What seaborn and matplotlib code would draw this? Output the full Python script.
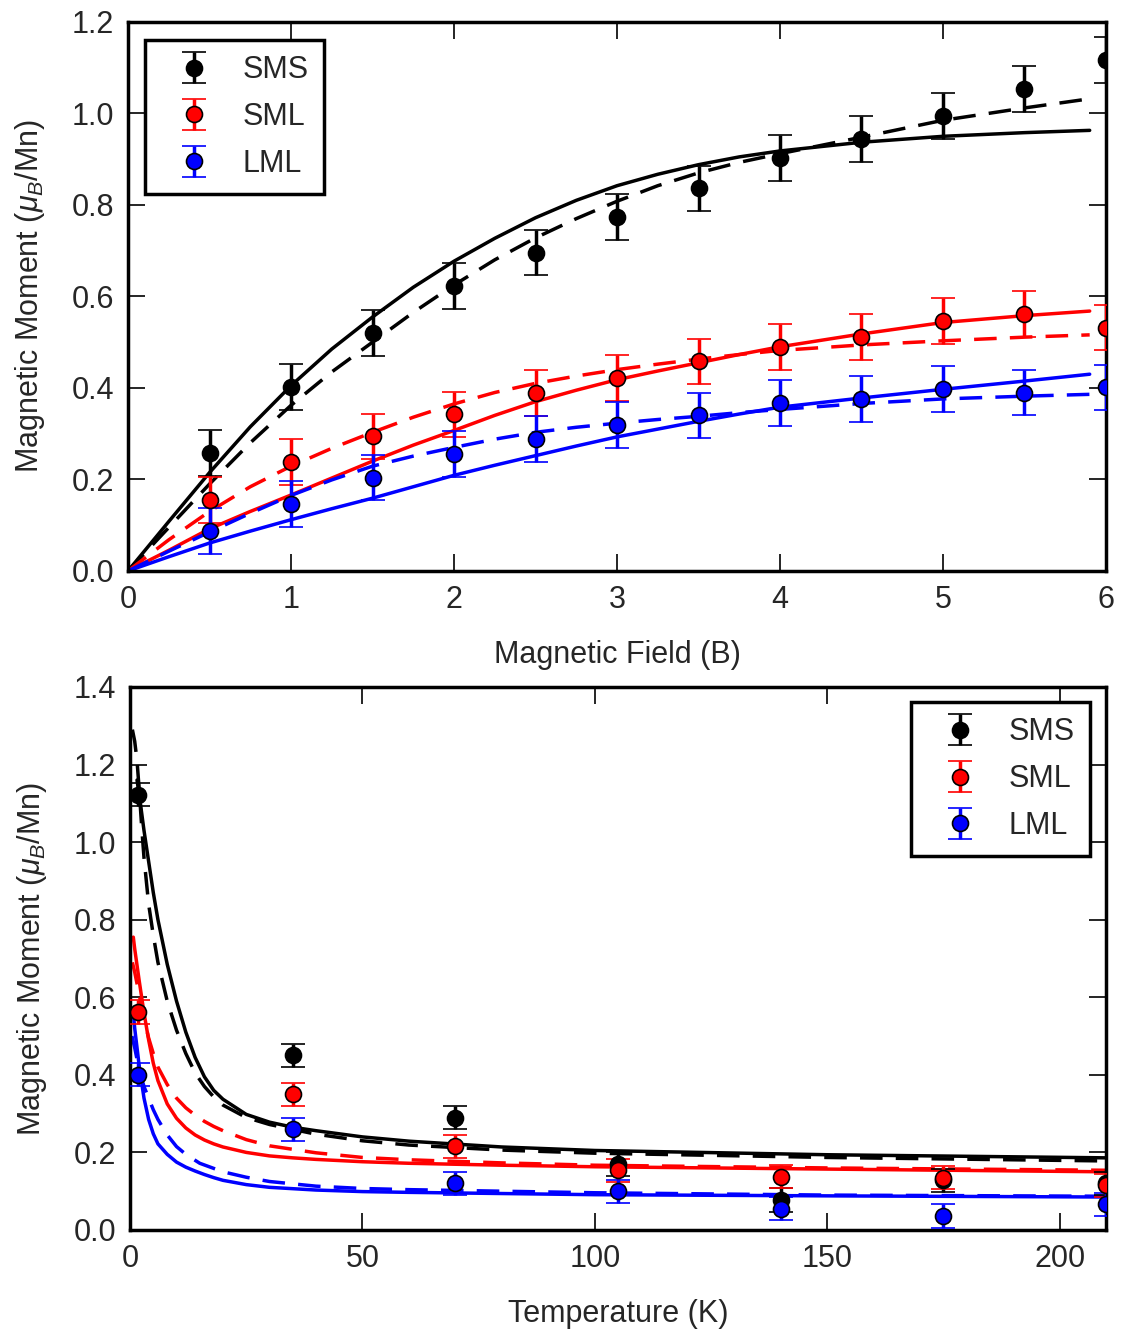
import numpy as np
import pandas as pd
import seaborn as sns
import matplotlib
matplotlib.use("Agg")
import matplotlib.pyplot as plt

# ---- field sweep (top panel) ----
field = [0.5, 1.0, 1.5, 2.0, 2.5, 3.0, 3.5, 4.0, 4.5, 5.0, 5.5, 6.0]
sms_B = [0.258, 0.402, 0.52, 0.622, 0.696, 0.773, 0.836, 0.902, 0.944, 0.995, 1.053, 1.116]
sml_B = [0.155, 0.238, 0.294, 0.342, 0.389, 0.421, 0.458, 0.489, 0.512, 0.547, 0.561, 0.532]
lml_B = [0.087, 0.146, 0.204, 0.256, 0.288, 0.319, 0.340, 0.367, 0.375, 0.397, 0.390, 0.401]
err_B = 0.05

fit_B = [0.0, 0.25, 0.5, 0.75, 1.0, 1.25, 1.5, 1.75, 2.0, 2.25, 2.5, 2.75, 3.0,
         3.25, 3.5, 3.75, 4.0, 4.5, 5.0, 5.5, 5.9]
sms_B_solid = [0.0, 0.108, 0.215, 0.315, 0.405, 0.485, 0.555, 0.62, 0.677, 0.727, 0.772,
               0.81, 0.842, 0.867, 0.888, 0.905, 0.918, 0.937, 0.950, 0.958, 0.963]
sms_B_dash = [0.0, 0.095, 0.19, 0.28, 0.362, 0.435, 0.50, 0.565, 0.625, 0.68, 0.728,
              0.77, 0.808, 0.842, 0.87, 0.893, 0.912, 0.948, 0.985, 1.012, 1.032]
sml_B_solid = [0.0, 0.045, 0.092, 0.13, 0.166, 0.203, 0.24, 0.275, 0.307, 0.34, 0.37,
               0.395, 0.418, 0.437, 0.455, 0.473, 0.49, 0.518, 0.543, 0.558, 0.568]
sml_B_dash = [0.0, 0.068, 0.13, 0.184, 0.229, 0.268, 0.303, 0.336, 0.365, 0.39, 0.41,
              0.426, 0.44, 0.452, 0.463, 0.473, 0.482, 0.494, 0.503, 0.511, 0.516]
lml_B_solid = [0.0, 0.031, 0.061, 0.087, 0.112, 0.136, 0.159, 0.184, 0.209, 0.231, 0.252,
               0.273, 0.293, 0.31, 0.327, 0.343, 0.358, 0.378, 0.397, 0.415, 0.43]
lml_B_dash = [0.0, 0.043, 0.085, 0.126, 0.165, 0.199, 0.229, 0.251, 0.27, 0.288, 0.303,
              0.314, 0.323, 0.331, 0.338, 0.346, 0.353, 0.366, 0.376, 0.382, 0.386]

# ---- temperature sweep (bottom panel) ----
temp = [1.8, 35, 70, 105, 140, 175, 210]
sms_T = [1.122, 0.450, 0.290, 0.170, 0.077, 0.128, 0.120]
sml_T = [0.562, 0.350, 0.216, 0.154, 0.137, 0.135, 0.115]
lml_T = [0.400, 0.260, 0.120, 0.100, 0.055, 0.036, 0.066]
err_T = 0.03

sms_T_solid_x = [1.5, 2, 3, 4, 5, 6, 8, 10, 12, 14, 16, 18, 20, 25, 30, 35, 40, 50, 60, 80, 100, 150, 210]
sms_T_solid = [1.16, 1.12, 1.03, 0.95, 0.87, 0.80, 0.685, 0.59, 0.51, 0.445, 0.395, 0.36, 0.337,
               0.298, 0.278, 0.265, 0.256, 0.240, 0.229, 0.214, 0.205, 0.194, 0.186]
sms_T_dash_x = [0.5, 1, 1.5, 2, 2.5, 3, 4, 5, 6, 8, 10, 12, 14, 16, 18, 20, 25, 30, 40, 50, 60, 80, 100, 150, 210]
sms_T_dash = [1.29, 1.26, 1.21, 1.13, 1.04, 0.96, 0.84, 0.76, 0.69, 0.59, 0.515, 0.455, 0.405,
              0.37, 0.343, 0.322, 0.29, 0.272, 0.247, 0.230, 0.219, 0.206, 0.198, 0.187, 0.178]
sml_T_solid_x = [0.7, 1, 2, 3, 4, 5, 6, 8, 10, 12, 14, 16, 18, 20, 25, 30, 35, 40, 50, 60, 80, 100, 150, 210]
sml_T_solid = [0.755, 0.725, 0.64, 0.56, 0.49, 0.43, 0.385, 0.325, 0.288, 0.263, 0.245, 0.232,
               0.222, 0.214, 0.200, 0.191, 0.186, 0.182, 0.176, 0.172, 0.167, 0.163, 0.157, 0.150]
sml_T_dash_x = [0.5, 1, 2, 3, 4, 5, 6, 8, 10, 12, 14, 16, 18, 20, 25, 30, 40, 50, 60, 80, 100, 150, 210]
sml_T_dash = [0.69, 0.665, 0.605, 0.545, 0.495, 0.455, 0.42, 0.375, 0.34, 0.315, 0.296, 0.28,
              0.267, 0.256, 0.233, 0.217, 0.199, 0.187, 0.181, 0.173, 0.167, 0.160, 0.154]
lml_T_solid_x = [0.7, 1, 1.5, 2, 3, 4, 5, 6, 8, 10, 12, 14, 16, 18, 20, 25, 30, 40, 50, 60, 80, 100, 150, 210]
lml_T_solid = [0.56, 0.52, 0.47, 0.42, 0.34, 0.285, 0.248, 0.222, 0.195, 0.175, 0.162, 0.152,
               0.143, 0.135, 0.128, 0.117, 0.110, 0.103, 0.099, 0.097, 0.094, 0.091, 0.088, 0.085]
lml_T_dash_x = [0.4, 1, 2, 3, 4, 5, 6, 8, 10, 12, 15, 20, 25, 30, 40, 50, 60, 80, 100, 150, 210]
lml_T_dash = [0.50, 0.47, 0.41, 0.37, 0.34, 0.31, 0.285, 0.245, 0.215, 0.195, 0.172, 0.150,
              0.136, 0.125, 0.113, 0.107, 0.104, 0.100, 0.096, 0.090, 0.087]

labels = ["SMS", "SML", "LML"]
colors = ["black", "red", "blue"]

sns.set_style("ticks")
plt.rcParams['font.family'] = ['Liberation Sans', 'DejaVu Sans']
plt.rcParams['mathtext.fontset'] = 'custom'
plt.rcParams['mathtext.it'] = 'Liberation Sans:italic'
plt.rcParams['mathtext.rm'] = 'Liberation Sans'
plt.rcParams['font.size'] = 22

fig = plt.figure(figsize=(11.25, 13.29), dpi=100)
ax1 = fig.add_axes([0.1138, 0.5704, 0.8693, 0.4131])
ax2 = fig.add_axes([0.1156, 0.0745, 0.8676, 0.4086])

lw = 2.5
dash = (0, (6.5, 3.8))


def draw_fit(ax, x, y, c, ls):
    sns.lineplot(x=x, y=y, color=c, linewidth=lw, linestyle=ls, ax=ax, zorder=2)


# top panel
for sol, dsh, c in [(sms_B_solid, sms_B_dash, "black"),
                    (sml_B_solid, sml_B_dash, "red"),
                    (lml_B_solid, lml_B_dash, "blue")]:
    draw_fit(ax1, fit_B, sol, c, "-")
    draw_fit(ax1, fit_B, dsh, c, dash)

for vals, lab, c in zip([sms_B, sml_B, lml_B], labels, colors):
    ax1.errorbar(field, vals, yerr=err_B, fmt='o', color=c, mec='black',
                 mfc=c, ms=11.5, mew=1.2, capsize=8.5, elinewidth=lw, capthick=lw,
                 label=lab, zorder=3)

# bottom panel
for sx, sy, dx, dy, c in [(sms_T_solid_x, sms_T_solid, sms_T_dash_x, sms_T_dash, "black"),
                          (sml_T_solid_x, sml_T_solid, sml_T_dash_x, sml_T_dash, "red"),
                          (lml_T_solid_x, lml_T_solid, lml_T_dash_x, lml_T_dash, "blue")]:
    draw_fit(ax2, sx, sy, c, "-")
    draw_fit(ax2, dx, dy, c, dash)

for vals, lab, c in zip([sms_T, sml_T, lml_T], labels, colors):
    ax2.errorbar(temp, vals, yerr=err_T, fmt='o', color=c, mec='black',
                 mfc=c, ms=11.5, mew=1.2, capsize=8.5, elinewidth=lw, capthick=lw,
                 label=lab, zorder=3)

ax1.set_xlim(0, 6)
ax1.set_ylim(0, 1.2)
ax1.set_xticks(range(0, 7))
ax1.set_yticks(np.arange(0, 1.21, 0.2))
ax1.set_xlabel("Magnetic Field (B)", labelpad=18)

ax2.set_xlim(0, 210)
ax2.set_ylim(0, 1.4)
ax2.set_xticks(range(0, 201, 50))
ax2.set_yticks(np.arange(0, 1.41, 0.2))
ax2.set_xlabel("Temperature (K)", labelpad=18)

for ax in (ax1, ax2):
    ax.yaxis.set_major_formatter(matplotlib.ticker.FormatStrFormatter('%.1f'))
    ax.set_ylabel(r"Magnetic Moment ($\mu_B$/Mn)", labelpad=18)
    ax.tick_params(direction='in', length=12, width=1.2, top=True, right=True,
                   labelsize=22, pad=10, color='black')
    for s in ax.spines.values():
        s.set_linewidth(2.5)
        s.set_color('black')

leg_kw = dict(numpoints=1, fontsize=22, frameon=True, fancybox=False,
              borderpad=0.5, handlelength=2.2, handletextpad=0.5,
              labelspacing=0.55, borderaxespad=0)
leg1 = ax1.legend(loc='upper left', bbox_to_anchor=(0.0174, 0.967), **leg_kw)
leg2 = ax2.legend(loc='upper right', bbox_to_anchor=(0.9836, 0.972), **leg_kw)
for leg in (leg1, leg2):
    leg.get_frame().set_edgecolor('black')
    leg.get_frame().set_linewidth(2.5)
    leg.get_frame().set_alpha(1)

fig.savefig("out.png", dpi=100)
